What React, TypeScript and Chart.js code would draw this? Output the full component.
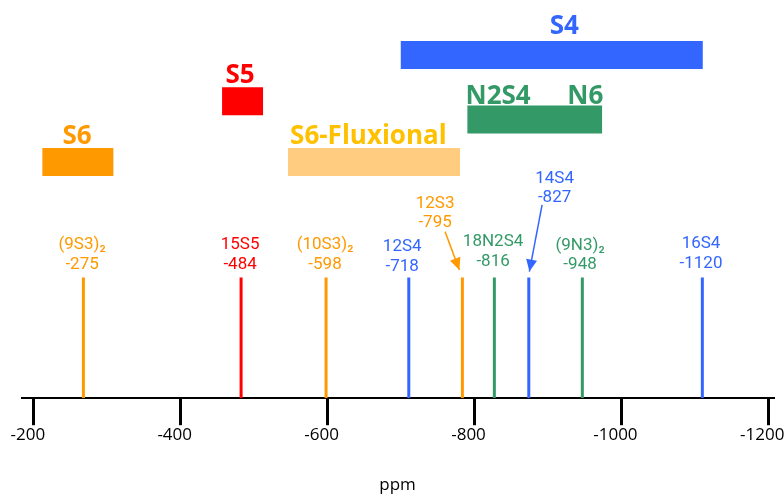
import React, { useEffect, useRef } from "react";
import { Chart, registerables } from "chart.js";

Chart.register(...registerables);

// ---- axis ----
const axisTicks = [-200, -400, -600, -800, -1000, -1200];
const axisLeftValue = -183.9;
const axisRightValue = -1206.4;

// ---- species ranges (floating bands) ----
const bandNames = ["S4", "N2S4-N6", "S5", "S6", "S6-Fluxional"];
const bandStart = [-699.6, -790.3, -456.3, -211.6, -546.1];
const bandEnd = [-1110.8, -973.7, -512.1, -308.3, -780.3];
const bandLevel = [86.2, 70.0, 74.6, 59.3, 59.3];

// ---- band captions ----
const captionText = ["S4", "N2S4", "N6", "S5", "S6", "S6-Fluxional"];
const captionX = [-922.3, -832.1, -950.8, -480.8, -258.9, -655.5];
const captionY = [91.39, 73.89, 73.89, 79.09, 63.85, 63.85];

// ---- individual peaks ----
const peakNames = ["(9S3)₂", "15S5", "(10S3)₂", "12S4", "12S3", "18N2S4", "14S4", "(9N3)₂", "16S4"];
const peakShifts = [-275, -484, -598, -718, -795, -816, -827, -948, -1120];
const peakPositions = [-267.5, -482.2, -597.9, -710.5, -783.5, -827.0, -873.9, -946.8, -1110.2];
const peakLabelX = [-265.7, -480.8, -596.5, -701.6, -746.3, -825.3, -909.0, -943.7, -1108.4];
const peakLabelY = [37.4, 37.4, 37.4, 36.9, 47.85, 38.2, 54.13, 37.3, 37.6];
const peakHeight = 30.3;

// ---- arrows (from label to peak) ----
const arrowFromX = [-759.9, -892.0];
const arrowFromY = [41.83, 48.53];
const arrowToX = [-779.4, -874.7];
const arrowToY = [32.21, 31.79];

// ---- styles ----
const ORANGE = "#FF9900";
const RED = "#FF0000";
const BLUE = "#3366FF";
const GREEN = "#339966";
const LIGHT_ORANGE = "#FFCC80";
const GOLD = "#FFC000";
const bandColors = [BLUE, GREEN, RED, ORANGE, LIGHT_ORANGE];
const captionColors = [BLUE, GREEN, GREEN, RED, ORANGE, GOLD];
const peakColors = [ORANGE, RED, ORANGE, BLUE, ORANGE, GREEN, BLUE, GREEN, BLUE];
const arrowColors = [ORANGE, BLUE];

const labelPlugin = {
  id: "labels",
  afterDatasetsDraw(chart: any) {
    const { ctx, scales } = chart;
    const xs = scales.x;
    const ys = scales.y;
    ctx.save();
    // band captions
    ctx.textAlign = "center";
    ctx.textBaseline = "alphabetic";
    ctx.font = "bold 26px 'Open Sans'";
    captionText.forEach((t, i) => {
      ctx.fillStyle = captionColors[i];
      ctx.fillText(t, xs.getPixelForValue(captionX[i]), ys.getPixelForValue(captionY[i]));
    });
    // peak labels
    ctx.font = "17px Roboto";
    peakNames.forEach((n, i) => {
      const px = xs.getPixelForValue(peakLabelX[i]);
      const py = ys.getPixelForValue(peakLabelY[i]);
      ctx.fillStyle = peakColors[i];
      ctx.fillText(n, px, py);
      ctx.fillText(String(peakShifts[i]), px, py + 19.5);
    });
    // arrow heads
    arrowToX.forEach((tx, i) => {
      const x2 = xs.getPixelForValue(tx);
      const y2 = ys.getPixelForValue(arrowToY[i]);
      const x1 = xs.getPixelForValue(arrowFromX[i]);
      const y1 = ys.getPixelForValue(arrowFromY[i]);
      const a = Math.atan2(y2 - y1, x2 - x1);
      const L = 12;
      const W = 5.5;
      const bx = x2 - L * Math.cos(a);
      const by = y2 - L * Math.sin(a);
      ctx.fillStyle = arrowColors[i];
      ctx.beginPath();
      ctx.moveTo(x2, y2);
      ctx.lineTo(bx + W * Math.sin(a), by - W * Math.cos(a));
      ctx.lineTo(bx - W * Math.sin(a), by + W * Math.cos(a));
      ctx.closePath();
      ctx.fill();
    });
    ctx.restore();
  },
};

export default function App() {
  const ref = useRef<HTMLCanvasElement>(null);
  useEffect(() => {
    if (!ref.current) return;
    const datasets: any[] = [];
    bandNames.forEach((name, i) => {
      datasets.push({
        label: name,
        data: [
          { x: bandStart[i], y: bandLevel[i] },
          { x: bandEnd[i], y: bandLevel[i] },
        ],
        borderColor: bandColors[i],
        borderWidth: 28,
        borderCapStyle: "butt",
        pointRadius: 0,
        fill: false,
      });
    });
    peakNames.forEach((name, i) => {
      datasets.push({
        label: name,
        data: [
          { x: peakPositions[i], y: 0 },
          { x: peakPositions[i], y: peakHeight },
        ],
        borderColor: peakColors[i],
        borderWidth: 3,
        borderCapStyle: "butt",
        pointRadius: 0,
        fill: false,
      });
    });
    arrowToX.forEach((tx, i) => {
      datasets.push({
        label: "arrow" + i,
        data: [
          { x: arrowFromX[i], y: arrowFromY[i] },
          { x: tx, y: arrowToY[i] },
        ],
        borderColor: arrowColors[i],
        borderWidth: 1.5,
        pointRadius: 0,
        fill: false,
      });
    });

    const chart = new Chart(ref.current, {
      type: "line",
      data: { datasets },
      plugins: [labelPlugin],
      options: {
        animation: false,
        responsive: false,
        devicePixelRatio: 1,
        layout: { padding: { left: 22, right: 11, top: 0, bottom: 0 } },
        plugins: { legend: { display: false }, tooltip: { enabled: false } },
        elements: { line: { tension: 0 } },
        scales: {
          x: {
            type: "linear",
            min: axisRightValue,
            max: axisLeftValue,
            reverse: true,
            afterBuildTicks: (s: any) => {
              s.ticks = axisTicks.map((v) => ({ value: v }));
            },
            afterFit: (s: any) => {
              s.paddingLeft = 0;
              s.paddingRight = 0;
            },
            ticks: {
              callback: (v: any) => String(v),
              font: { family: "'Open Sans'", size: 17 },
              color: "#000",
              padding: 0,
              labelOffset: -6,
              maxRotation: 0,
              autoSkip: false,
            },
            grid: {
              drawOnChartArea: false,
              drawTicks: true,
              tickLength: 27,
              lineWidth: 3,
              color: "#000",
              tickColor: "#000",
            },
            border: { display: true, color: "#000", width: 2 },
            title: {
              display: true,
              text: "ppm",
              font: { family: "'Open Sans'", size: 17 },
              color: "#000",
              padding: { top: 29, bottom: 0 },
            },
          },
          y: { type: "linear", display: false, min: 0, max: 100 },
        },
      },
    } as any);
    return () => chart.destroy();
  }, []);
  return (
    <div style={{ position: "fixed", left: 0, top: 0, width: 784, height: 495, background: "#fff" }}>
      <canvas ref={ref} width={784} height={495} />
    </div>
  );
}
